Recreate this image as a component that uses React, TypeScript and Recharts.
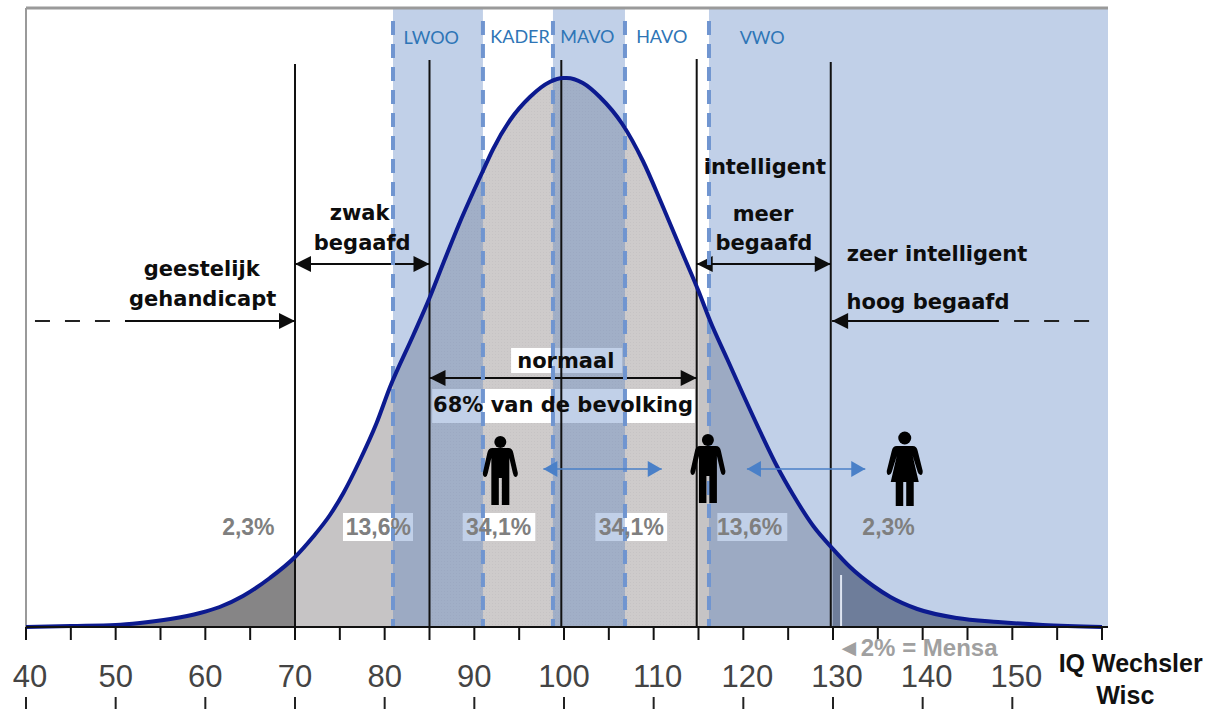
import {
  Area,
  ComposedChart,
  Line,
  ReferenceArea,
  ReferenceDot,
  ReferenceLine,
  XAxis,
  YAxis,
} from "recharts";

// IQ score and height of the bell curve above the base line
const iqScores = [
  40, 45, 50, 52.7, 56.1, 59.4, 61.6, 64.2, 67.2, 70, 72, 73.9, 75.4, 77.2, 79.1, 80.6, 83.2, 85, 86.5,
  88.4, 90.9, 92.1, 94, 96.2, 98.4, 99.9, 100.3, 102.1, 104, 106.5, 108.8, 111, 113.3, 115, 116.3, 118.2,
  120, 121.9, 123.8, 125.5, 127.8, 130, 131.9, 134.5, 136.4, 139.4, 143.8, 148.4, 153.4, 160,
];
const curveHeights = [
  0, 1, 2, 4, 8, 14, 20, 31, 49, 70, 90, 112, 134, 166, 204, 240, 292, 329, 363,
  405, 455, 478, 507, 530, 545, 549, 549, 544, 530, 503, 466, 421, 372, 336, 306, 268,
  232, 195, 160, 133, 101, 78, 60, 41, 30, 18, 9, 5, 2, 0,
];

const tickValues = [
  40, 45, 50, 55, 60, 65, 70, 75, 80, 85, 90, 95, 100, 105, 110, 115, 120, 125, 130, 135, 140, 145, 150, 155, 160,
];
const lowerTicks = [40, 50, 60, 70, 80, 90, 100, 110, 120, 130, 140, 150];
const labelledTicks = [40, 50, 60, 70, 80, 90, 100, 110, 120, 130, 140, 150];

const schoolBands = [
  [80.93, 90.96],
  [98.77, 106.8],
  [116.17, 160.67],
];
const bandEdges = [80.93, 90.96, 98.77, 106.8, 116.17];
const schoolLabels: [string, number, number][] = [
  ["LWOO", 85.2, 590],
  ["KADER", 95.1, 591],
  ["MAVO", 102.6, 591],
  ["HAVO", 110.9, 591],
  ["VWO", 122.1, 590],
];
const boundaries: [number, number][] = [
  [70, 563],
  [85, 567],
  [99.7, 567],
  [114.8, 568],
  [129.75, 565],
];

const percentLabels: [string, number][] = [
  ["2,3%", 64.8],
  ["13,6%", 79.3],
  ["34,1%", 92.7],
  ["34,1%", 107.5],
  ["13,6%", 120.7],
  ["2,3%", 136.2],
];
const whiteBoxes = [
  [75.35, 83.16, 86, 114],
  [88.7, 96.8, 86, 114],
  [103.5, 111.5, 86, 114],
  [117.1, 124.9, 86, 114],
  [94.1, 106.5, 254, 279],
  [85.3, 114.6, 204, 238],
];
const darkLabels: [string, number, number][] = [
  ["geestelijk", 59.6, 358],
  ["gehandicapt", 59.7, 328],
  ["zwak", 77.2, 414],
  ["begaafd", 77.5, 384],
  ["intelligent", 122.4, 460],
  ["meer", 122.2, 413],
  ["begaafd", 122.3, 384],
  ["zeer intelligent", 141.6, 373],
  ["hoog begaafd", 140.6, 325],
  ["normaal", 100.2, 266],
  ["68% van de bevolking", 99.9, 222],
];
const rangeArrows: [number, number, number, boolean][] = [
  [70, 85, 363, true],
  [114.8, 129.75, 363, true],
  [85, 114.8, 249, true],
  [51.04, 70, 306, false],
  [148.5, 129.9, 306, false],
];
const dashedLeads = [
  [41, 49.4, 306],
  [150.2, 159, 306],
];
const blueArrows = [
  [97.7, 110.9, 158],
  [120.4, 133.6, 158],
];
const people: [string, number, number][] = [
  ["man", 92.9, 122],
  ["man", 116.05, 124],
  ["woman", 138, 121],
];

const rows = iqScores.map((iq, i) => {
  const h = curveHeights[i];
  return {
    iq,
    curve: h,
    farLeft: iq <= 70 ? h : null,
    nearLeft: iq >= 70 && iq <= 85 ? h : null,
    center: iq >= 85 && iq <= 115 ? h : null,
    nearRight: iq >= 115 && iq <= 130 ? h : null,
    farRight: iq >= 130 ? h : null,
  };
});

const SANS = '"Liberation Sans", Arial, sans-serif';
const BOLD = '"DejaVu Sans", Verdana, sans-serif';

const textShape =
  (text: string, fontSize: number, fill: string, fontFamily: string, fontWeight: number | string) =>
  (props: any) => (
    <text
      x={props.cx}
      y={props.cy}
      textAnchor="middle"
      dominantBaseline="central"
      fontSize={fontSize}
      fill={fill}
      fontFamily={fontFamily}
      fontWeight={fontWeight}
    >
      {text}
    </text>
  );

const arrowShape =
  (both: boolean, color: string, sw: number, len: number, half: number) =>
  ({ x1, y1, x2, y2 }: any) => {
    const dir = x2 > x1 ? 1 : -1;
    return (
      <g>
        <line x1={x1} y1={y1} x2={x2} y2={y2} stroke={color} strokeWidth={sw} />
        <polygon
          points={`${x2},${y2} ${x2 - dir * len},${y2 - half} ${x2 - dir * len},${y2 + half}`}
          fill={color}
        />
        {both && (
          <polygon
            points={`${x1},${y1} ${x1 + dir * len},${y1 - half} ${x1 + dir * len},${y1 + half}`}
            fill={color}
          />
        )}
      </g>
    );
  };

const personShape = (kind: string) => (props: any) => {
  const { cx, cy } = props;
  if (kind === "man") {
    return (
      <g transform={`translate(${cx},${cy})`} fill="#000">
        <circle cx={0} cy={-63} r={6} />
        <path d="M-8,-57 H8 Q12,-57 13,-52 L17.5,-32 Q17.5,-28 15,-28 Q13,-29 12.5,-32 L9,-47 V0 H1.5 V-27 H-1.5 V0 H-9 V-47 L-12.5,-32 Q-13,-29 -15,-28 Q-17.5,-28 -17.5,-32 L-13,-52 Q-12,-57 -8,-57 Z" />
      </g>
    );
  }
  return (
    <g transform={`translate(${cx},${cy})`} fill="#000">
      <circle cx={0} cy={-68} r={6.5} />
      <path d="M-8,-60 H8 Q12,-60 13,-55 L18,-35 Q18,-31 16,-31 Q14,-31 13,-34 L8,-50 L14,-24 H-14 L-8,-50 L-13,-34 Q-14,-31 -16,-31 Q-18,-31 -18,-35 L-13,-55 Q-12,-60 -8,-60 Z" />
      <path d="M-9,-24 H-1.5 V0 H-9 Z M1.5,-24 H9 V0 H1.5 Z" />
    </g>
  );
};

const renderTick = (props: any) => {
  const value = props.payload.value;
  if (!labelledTicks.includes(value)) return <g />;
  const nudge = value === 40 || value >= 110 ? 4 : 0;
  return (
    <text
      x={props.x + nudge}
      y={676}
      textAnchor="middle"
      dominantBaseline="central"
      fontSize={31}
      fill="#444"
      fontFamily={SANS}
    >
      {value}
    </text>
  );
};

export default function App() {
  return (
    <div style={{ position: "absolute", left: 0, top: 0, width: 1209, height: 709, background: "#fff" }}>
      <ComposedChart
        width={1209}
        height={709}
        data={rows}
        margin={{ top: 8, right: 101, bottom: 0, left: 26 }}
      >
        <defs>
          <pattern id="stipple" width={3} height={3} patternUnits="userSpaceOnUse">
            <rect width={3} height={3} fill="#cecbcb" />
            <rect width={1} height={1} fill="#c6c3c4" />
          </pattern>
        </defs>
        <XAxis
          dataKey="iq"
          type="number"
          domain={[40, 160.67]}
          ticks={tickValues}
          interval={0}
          height={70}
          tickSize={13}
          tick={renderTick}
          tickLine={{ stroke: "#111", strokeWidth: 2 }}
          axisLine={{ stroke: "#111", strokeWidth: 2 }}
        />
        <XAxis
          xAxisId="lower"
          dataKey="iq"
          type="number"
          domain={[40, 160.67]}
          ticks={lowerTicks}
          interval={0}
          height={12}
          tickSize={12}
          tick={() => <g />}
          tickLine={{ stroke: "#222", strokeWidth: 2 }}
          axisLine={false}
        />
        <YAxis type="number" domain={[0, 619]} width={0} tick={false} tickLine={false} axisLine={false} />
        <ReferenceLine y={619} stroke="#9a9a9a" strokeWidth={3} />
        <ReferenceLine x={40} stroke="#9a9a9a" strokeWidth={2} />

        <Area dataKey="farLeft" type="monotone" stroke="none" fill="#868586" fillOpacity={1} isAnimationActive={false} />
        <Area dataKey="nearLeft" type="monotone" stroke="none" fill="#c6c4c5" fillOpacity={1} isAnimationActive={false} />
        <Area dataKey="center" type="monotone" stroke="none" fill="url(#stipple)" fillOpacity={1} isAnimationActive={false} />
        <Area dataKey="nearRight" type="monotone" stroke="none" fill="#c6c4c5" fillOpacity={1} isAnimationActive={false} />
        <Area dataKey="farRight" type="monotone" stroke="none" fill="#7d7d86" fillOpacity={1} isAnimationActive={false} />

        {boundaries.map(([iq, top]) => (
          <ReferenceLine
            key={iq}
            segment={[
              { x: iq, y: top },
              { x: iq, y: 0 },
            ]}
            stroke="#111"
            strokeWidth={2}
          />
        ))}

        {whiteBoxes.map(([x1, x2, y1, y2]) => (
          <ReferenceArea key={x1} x1={x1} x2={x2} y1={y1} y2={y2} fill="#fff" fillOpacity={1} stroke="none" />
        ))}
        {percentLabels.map(([text, iq]) => (
          <ReferenceDot
            key={iq}
            x={iq}
            y={100}
            r={0}
            shape={textShape(text, 23, "#7f7f7f", SANS, 700)}
          />
        ))}
        {darkLabels.map(([text, iq, h]) => (
          <ReferenceDot
            key={text + iq}
            x={iq}
            y={h}
            r={0}
            shape={textShape(text, 21, "#0d0d0d", BOLD, 700)}
          />
        ))}
        {rangeArrows.map(([from, to, h, both]) => (
          <ReferenceLine
            key={from}
            segment={[
              { x: from, y: h },
              { x: to, y: h },
            ]}
            shape={arrowShape(both, "#0d0d0d", 2, 16, 8)}
          />
        ))}
        {dashedLeads.map(([from, to, h]) => (
          <ReferenceLine
            key={from}
            segment={[
              { x: from, y: h },
              { x: to, y: h },
            ]}
            stroke="#222"
            strokeWidth={2}
            strokeDasharray="15 15"
          />
        ))}

        {schoolBands.map(([x1, x2]) => (
          <ReferenceArea key={x1} x1={x1} x2={x2} y1={0} y2={619} fill="#537dbf" fillOpacity={0.36} stroke="none" />
        ))}
        {bandEdges.map((iq) => (
          <ReferenceLine
            key={iq}
            segment={[
              { x: iq, y: 606 },
              { x: iq, y: 0 },
            ]}
            stroke="#7095d0"
            strokeWidth={4}
            strokeDasharray="14 9"
          />
        ))}
        <ReferenceLine
          segment={[
            { x: 130.9, y: 52 },
            { x: 130.9, y: 0 },
          ]}
          stroke="#dfe6f2"
          strokeWidth={2}
        />

        <Line
          dataKey="curve"
          type="monotone"
          stroke="#0c1a8f"
          strokeWidth={4}
          dot={false}
          activeDot={false}
          isAnimationActive={false}
        />

        {schoolLabels.map(([text, iq, h]) => (
          <ReferenceDot key={text} x={iq} y={h} r={0} shape={textShape(text, 18, "#2e75b6", "Lato, sans-serif", 400)} />
        ))}
        {blueArrows.map(([from, to, h]) => (
          <ReferenceLine
            key={from}
            segment={[
              { x: from, y: h },
              { x: to, y: h },
            ]}
            shape={arrowShape(true, "#4a80c8", 1.5, 14, 8)}
          />
        ))}
        {people.map(([kind, iq, h]) => (
          <ReferenceDot key={iq} x={iq} y={h} r={0} shape={personShape(kind)} />
        ))}

        <ReferenceDot
          x={139.4}
          y={-20}
          r={0}
          ifOverflow="visible"
          shape={textShape("◄2% = Mensa", 24, "#a0a0a0", SANS, 700)}
        />
        <ReferenceDot
          x={163.2}
          y={-36}
          r={0}
          ifOverflow="visible"
          shape={textShape("IQ Wechsler", 25, "#111", SANS, 700)}
        />
        <ReferenceDot
          x={162.6}
          y={-68}
          r={0}
          ifOverflow="visible"
          shape={textShape("Wisc", 25, "#111", SANS, 700)}
        />
      </ComposedChart>
    </div>
  );
}
